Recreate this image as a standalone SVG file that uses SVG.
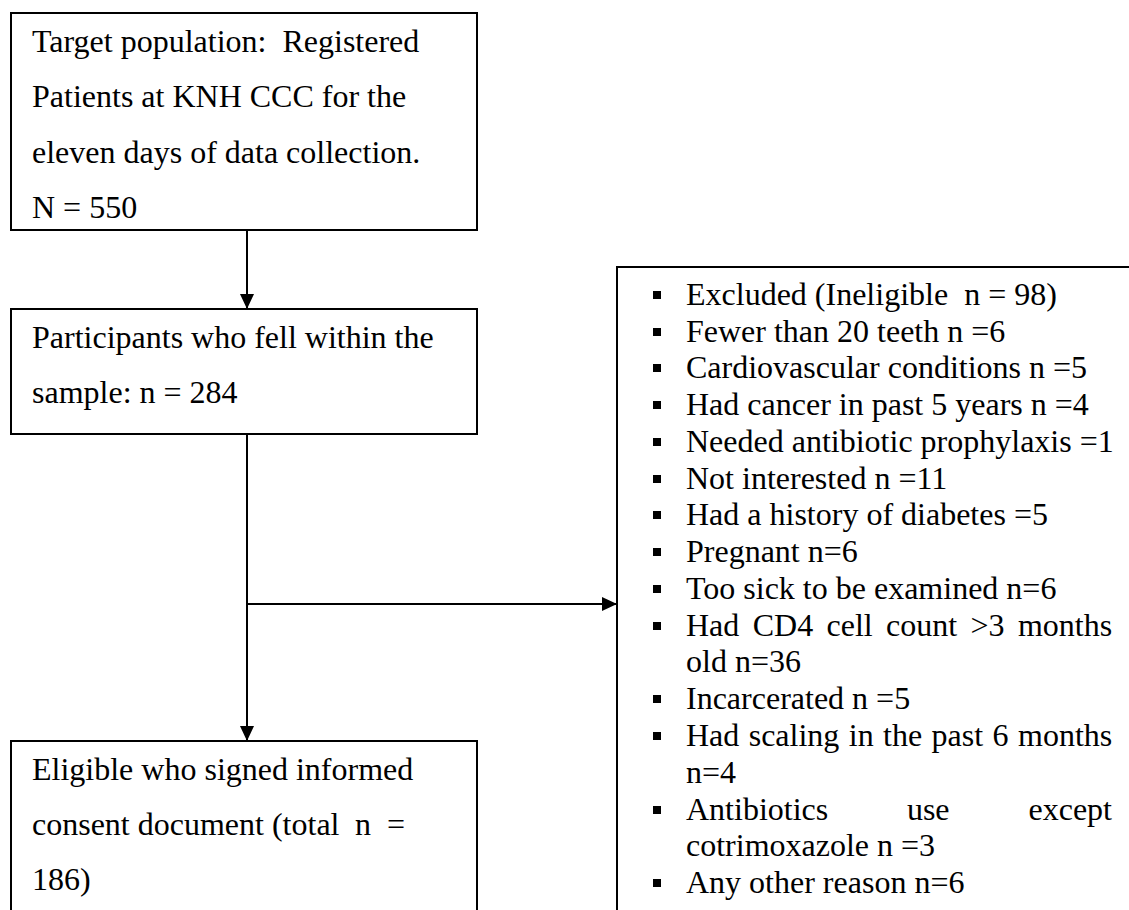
<svg xmlns="http://www.w3.org/2000/svg" width="1129" height="910" viewBox="0 0 1129 910">
  <style>
    .box { fill: #fff; stroke: #000; stroke-width: 2; }
    .edge { fill: none; stroke: #000; stroke-width: 2; }
    .t { font-family: "Liberation Serif", "Times New Roman", serif; font-size: 32px; fill: #000; white-space: pre; }
    .b { fill: #000; }
  </style>
  <defs>
    <marker id="arr" markerUnits="userSpaceOnUse" markerWidth="16" markerHeight="16" viewBox="0 0 16 16" refX="15" refY="8" orient="auto">
      <path d="M0,1 L15,8 L0,15 Z" fill="#000"/>
    </marker>
  </defs>
  <rect width="1129" height="910" fill="#fff"/>

  <g id="connectors">
    <line class="edge" x1="247" y1="230" x2="247" y2="309" marker-end="url(#arr)"/>
    <line class="edge" x1="247" y1="434" x2="247" y2="741" marker-end="url(#arr)"/>
    <line class="edge" x1="247" y1="604" x2="617" y2="604" marker-end="url(#arr)"/>
  </g>

  <g id="node-target">
    <rect class="box" x="11" y="13" width="466" height="217"/>
    <text class="t" x="32" y="52" xml:space="preserve">Target population:  Registered</text>
    <text class="t" x="32" y="107">Patients at KNH CCC for the</text>
    <text class="t" x="32" y="163">eleven days of data collection.</text>
    <text class="t" x="32" y="218">N = 550</text>
  </g>

  <g id="node-participants">
    <rect class="box" x="11" y="309" width="466" height="125"/>
    <text class="t" x="32" y="348">Participants who fell within the</text>
    <text class="t" x="32" y="403">sample: n = 284</text>
  </g>

  <g id="node-eligible">
    <rect class="box" x="11" y="741" width="466" height="200"/>
    <text class="t" x="32" y="780">Eligible who signed informed</text>
    <text class="t" y="835"><tspan x="32">consent document (total</tspan><tspan x="355">n</tspan><tspan x="387">=</tspan></text>
    <text class="t" x="32" y="890">186)</text>
  </g>

  <g id="node-excluded">
    <path class="edge" d="M617,941 L617,267 L1135,267"/>
    <g class="b">
      <rect x="653" y="291" width="8" height="8"/>
      <rect x="653" y="328" width="8" height="8"/>
      <rect x="653" y="364" width="8" height="8"/>
      <rect x="653" y="401" width="8" height="8"/>
      <rect x="653" y="438" width="8" height="8"/>
      <rect x="653" y="475" width="8" height="8"/>
      <rect x="653" y="511" width="8" height="8"/>
      <rect x="653" y="548" width="8" height="8"/>
      <rect x="653" y="585" width="8" height="8"/>
      <rect x="653" y="622" width="8" height="8"/>
      <rect x="653" y="695" width="8" height="8"/>
      <rect x="653" y="732" width="8" height="8"/>
      <rect x="653" y="806" width="8" height="8"/>
      <rect x="653" y="879" width="8" height="8"/>
    </g>
    <text class="t" x="686" y="305" xml:space="preserve">Excluded (Ineligible  n = 98)</text>
    <text class="t" x="686" y="342">Fewer than 20 teeth n =6</text>
    <text class="t" x="686" y="378">Cardiovascular conditions n =5</text>
    <text class="t" x="686" y="415">Had cancer in past 5 years n =4</text>
    <text class="t" x="686" y="452">Needed antibiotic prophylaxis =1</text>
    <text class="t" x="686" y="489">Not interested n =11</text>
    <text class="t" x="686" y="525">Had a history of diabetes =5</text>
    <text class="t" x="686" y="562">Pregnant n=6</text>
    <text class="t" x="686" y="599">Too sick to be examined n=6</text>
    <text class="t" y="636"><tspan x="686">Had</tspan><tspan x="752.7">CD4</tspan><tspan x="826.5">cell</tspan><tspan x="886.1">count</tspan><tspan x="970.5">&gt;3</tspan><tspan x="1017.9">months</tspan></text>
    <text class="t" x="686" y="672">old n=36</text>
    <text class="t" x="686" y="709">Incarcerated n =5</text>
    <text class="t" y="746"><tspan x="686">Had</tspan><tspan x="748.7">scaling</tspan><tspan x="848.8">in</tspan><tspan x="883.1">the</tspan><tspan x="931.6">past</tspan><tspan x="992.6">6</tspan><tspan x="1018">months</tspan></text>
    <text class="t" x="686" y="783">n=4</text>
    <text class="t" y="820"><tspan x="686">Antibiotics</tspan><tspan x="906.9">use</tspan><tspan x="1028.5">except</tspan></text>
    <text class="t" x="686" y="856">cotrimoxazole n =3</text>
    <text class="t" x="686" y="893">Any other reason n=6</text>
  </g>
</svg>
